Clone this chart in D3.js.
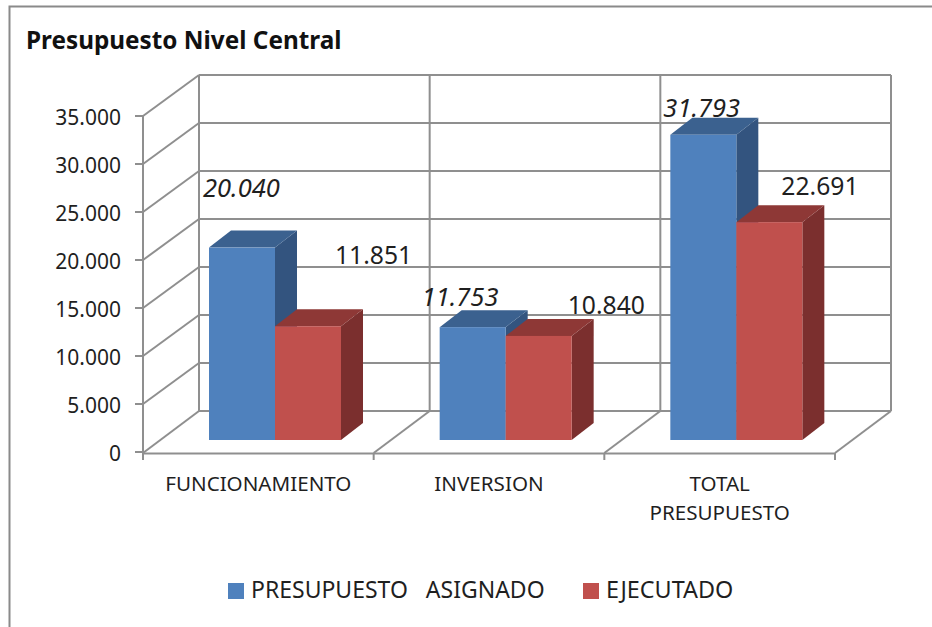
<!DOCTYPE html>
<html>
<head>
<meta charset="utf-8">
<script src="https://cdn.jsdelivr.net/npm/d3@7"></script>
<style>
  body { margin: 0; background: #fff; }
  svg { display: block; font-family: "Noto Sans", sans-serif; }
</style>
</head>
<body>
<script>
const width = 932;
const height = 627;

const categories = ["FUNCIONAMIENTO", "INVERSION", "TOTAL PRESUPUESTO"];
const asignado = [20040, 11753, 31793];
const ejecutado = [11851, 10840, 22691];
const seriesNames = ["PRESUPUESTO   ASIGNADO", "EJECUTADO"];
const yTicks = [0, 5000, 10000, 15000, 20000, 25000, 30000, 35000];

// hand placed data labels in the original, offset from the bar's top left corner
const labelNudge = [
  [[-6, -51], [60, -62]],
  [[-18, -21], [62, -22]],
  [[-7, -18], [45, -27]]
];

const grid = "#8f8f8f";
const ink = "#1f1f1f";
const blue = { front: "#4f81bd", side: "#33547f", top: "#3b618f" };
const red = { front: "#c0504d", side: "#7b2f2e", top: "#8e3836" };

// 3d box: back wall is the front plane moved by depth
const depth = { x: 56, y: -41 };
const barDepth = { x: 22, y: -17 };
const barLift = 12;

const x = d3.scaleBand().domain(categories).range([143, 835]);
const xSeries = d3.scaleBand().domain([0, 1]).range([66, 198]);
const y = d3.scaleLinear().domain([0, 35000]).range([452, 116]);

const fmt = d3.formatLocale({ decimal: ",", thousands: ".", grouping: [3], currency: ["", ""] }).format(",d");

const svg = d3.select("body").append("svg")
  .attr("width", width)
  .attr("height", height);

svg.append("rect").attr("width", width).attr("height", height).attr("fill", "#fff");

// chart frame, open on the right and bottom like the screenshot
svg.append("path")
  .attr("d", "M9.5," + height + "V6.5H" + width)
  .attr("fill", "none")
  .attr("stroke", "#8a8a8a")
  .attr("stroke-width", 2);

svg.append("text")
  .attr("x", 26).attr("y", 49)
  .attr("font-size", 24.3)
  .attr("font-weight", 700)
  .attr("fill", "#111")
  .text("Presupuesto Nivel Central");

const line = d3.line();
const gridG = svg.append("g").attr("fill", "none").attr("stroke", grid).attr("stroke-width", 2);
const x0 = x.range()[0];
const x1 = x.range()[1];

// horizontal gridlines on the wall + their diagonals on the side wall
yTicks.forEach(t => {
  gridG.append("path").attr("d", line([[x0 + depth.x, y(t) + depth.y], [x1 + depth.x, y(t) + depth.y]]));
  if (t > 0) gridG.append("path").attr("d", line([[x0, y(t)], [x0 + depth.x, y(t) + depth.y]]));
  gridG.append("path").attr("d", line([[x0 - 8, y(t)], [x0, y(t)]]));
});

// category edges: wall verticals, floor diagonals, ticks
const edges = [x0].concat(categories.map(c => x(c) + x.bandwidth()));
edges.forEach(e => {
  gridG.append("path").attr("d", line([[e + depth.x, y(35000) + depth.y], [e + depth.x, y(0) + depth.y]]));
  gridG.append("path").attr("d", line([[e, y(0) + 1], [e + depth.x, y(0) + depth.y]]));
  gridG.append("path").attr("d", line([[e, y(0) + 1], [e, y(0) + 8]]));
});

gridG.append("path").attr("d", line([[x0, y(35000)], [x0, y(0)]]));
gridG.append("path").attr("d", line([[x0, y(0) + 1.5], [x1, y(0) + 1.5]]));

// y tick labels
svg.append("g").selectAll("text")
  .data(yTicks)
  .join("text")
  .attr("x", 121)
  .attr("y", d => y(d) + 8.5)
  .attr("text-anchor", "end")
  .attr("font-size", 21)
  .attr("fill", ink)
  .text(d => d === 0 ? "0" : fmt(d));

// bars
function drawBar(g, cat, si, value, col) {
  const left = x(cat) + xSeries(si);
  const right = left + xSeries.bandwidth();
  const base = y(0) - barLift;
  const top = y(value) - barLift;
  const dx = barDepth.x;
  const dy = barDepth.y;
  g.append("path").attr("fill", col.side)
    .attr("d", line([[right, top], [right + dx, top + dy], [right + dx, base + dy], [right, base]]) + "Z");
  g.append("path").attr("fill", col.top)
    .attr("d", line([[left, top], [left + dx, top + dy], [right + dx, top + dy], [right, top]]) + "Z");
  g.append("rect").attr("fill", col.front)
    .attr("x", left).attr("y", top)
    .attr("width", xSeries.bandwidth()).attr("height", base - top);
}

const barsG = svg.append("g");
categories.forEach((c, i) => {
  drawBar(barsG, c, 0, asignado[i], blue);
  drawBar(barsG, c, 1, ejecutado[i], red);
});

// data labels, first series is italic
const labelsG = svg.append("g").attr("fill", ink);
categories.forEach((c, i) => {
  [asignado[i], ejecutado[i]].forEach((v, si) => {
    labelsG.append("text")
      .attr("x", x(c) + xSeries(si) + labelNudge[i][si][0])
      .attr("y", y(v) - barLift + labelNudge[i][si][1])
      .attr("font-size", si === 0 ? 25.5 : 24.7)
      .attr("font-style", si === 0 ? "italic" : "normal")
      .text(fmt(v));
  });
});

// category labels, wrapped on the space when too long for the band
const catG = svg.append("g").attr("font-size", 20.6).attr("fill", ink).attr("text-anchor", "middle");
categories.forEach(c => {
  const parts = c === "TOTAL PRESUPUESTO" ? c.split(" ") : [c];
  parts.forEach((p, k) => {
    catG.append("text")
      .attr("x", x(c) + x.bandwidth() / 2)
      .attr("y", 491 + k * 29)
      .text(p);
  });
});

// legend
const legendX = [228, 583];
const legendG = svg.append("g");
seriesNames.forEach((name, i) => {
  legendG.append("rect")
    .attr("x", legendX[i]).attr("y", 583)
    .attr("width", 16).attr("height", 16)
    .attr("fill", i === 0 ? blue.front : red.front);
  legendG.append("text")
    .attr("x", legendX[i] + 23).attr("y", 598)
    .attr("font-size", i === 0 ? 23 : 23.4)
    .attr("fill", ink)
    .attr("xml:space", "preserve")
    .style("white-space", "pre")
    .text(name);
});
</script>
</body>
</html>
